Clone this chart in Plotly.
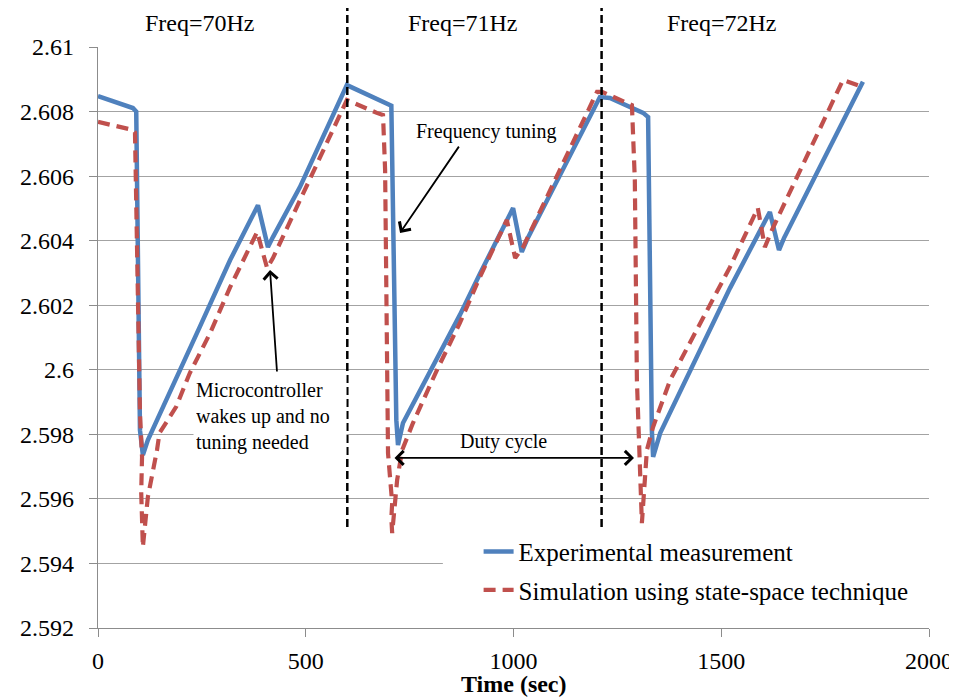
import plotly.graph_objects as go

# ---------------- data ----------------
time_exp = [0, 84, 92, 101, 108, 120, 245, 318, 385, 409, 421, 486, 599, 614,
            696, 706, 718, 722, 734, 792, 871, 919, 999, 1020, 1032, 1208,
            1232, 1312, 1324, 1333, 1336, 1353, 1432, 1521, 1617, 1639, 1651, 1841]
volt_exp = [2.60848, 2.60811, 2.60800, 2.59813, 2.59736, 2.59782, 2.60133, 2.60340,
            2.60510, 2.60380, 2.60411, 2.60566, 2.60882, 2.60873,
            2.60827, 2.60818, 2.59844, 2.59767, 2.59835, 2.59978, 2.60170, 2.60297,
            2.60501, 2.60365, 2.60402, 2.60845,
            2.60842, 2.60796, 2.60783, 2.59813, 2.59730, 2.59804, 2.60015, 2.60253,
            2.60489, 2.60371, 2.60408, 2.60892]

time_sim = [0, 84, 89, 94, 101, 106, 104, 108, 120, 142, 148, 188, 221, 270, 318,
            383, 407, 421, 599, 671, 686,
            691, 696, 698, 708, 706, 708, 720, 732, 758, 816, 871, 919, 984, 1004,
            1023, 1201, 1213, 1285,
            1292, 1297, 1304, 1307, 1309, 1321, 1336, 1377, 1432, 1521, 1588, 1605,
            1622, 1793, 1841]
volt_sim = [2.60768, 2.60743, 2.60735, 2.60278, 2.59866, 2.59730, 2.59620, 2.59451,
            2.59606, 2.59751, 2.59804, 2.59885, 2.59990, 2.60114, 2.60256,
            2.60427, 2.60315, 2.60346, 2.60836, 2.60796, 2.60789,
            2.60619, 2.60000, 2.59742, 2.59587, 2.59540, 2.59494, 2.59659, 2.59751,
            2.59835, 2.60000, 2.60145, 2.60287, 2.60464, 2.60346,
            2.60380, 2.60861, 2.60861, 2.60820,
            2.60588, 2.59968, 2.59658, 2.59580, 2.59525, 2.59751, 2.59823, 2.59968,
            2.60102, 2.60318, 2.60501, 2.60380,
            2.60433, 2.60898, 2.60876]

series_names = ["Experimental measurement", "Simulation using state-space technique"]

phase_bounds = [600, 1212]
freq_labels = ["Freq=70Hz", "Freq=71Hz", "Freq=72Hz"]
freq_label_x = [245, 878, 1502]

y_tickvals = [2.592, 2.594, 2.596, 2.598, 2.6, 2.602, 2.604, 2.606, 2.608, 2.61]
y_ticktext = ["2.592", "2.594", "2.596", "2.598", "2.6", "2.602", "2.604",
              "2.606", "2.608", "2.61"]
x_tickvals = [0, 500, 1000, 1500, 2000]
x_ticktext = ["0", "500", "1000", "1500", "2000"]

# ---------------- figure ----------------
FONT = "Liberation Serif, Times New Roman, serif"
BLUE = "#4F81BD"
RED = "#C0504D"
GRID = "#a3a3a3"
AXIS = "#8c8c8c"

fig = go.Figure()
fig.add_trace(go.Scatter(x=time_exp, y=volt_exp, mode="lines", name=series_names[0],
                         legendgroup="exp",
                         line=dict(color=BLUE, width=4.5)))
fig.add_trace(go.Scatter(x=time_sim, y=volt_sim, mode="lines", name=series_names[1],
                         legendgroup="sim",
                         line=dict(color=RED, width=4.2, dash="12px,7px")))

# vertical phase separators
for xb in phase_bounds:
    fig.add_shape(type="line", xref="x", yref="paper", x0=xb, x1=xb, y0=0.174, y1=1.081,
                  line=dict(color="black", width=2.5, dash="8px,4px"))

# white panel behind the legend (hides the grid line like the original)
fig.add_shape(type="rect", xref="paper", yref="paper", x0=0.415, x1=1.0, y0=0.03, y1=0.15,
              fillcolor="white", line=dict(width=0), layer="above")

annotations = []
for lab, lx in zip(freq_labels, freq_label_x):
    annotations.append(dict(x=lx, y=1.041, xref="x", yref="paper", text=lab,
                            showarrow=False, font=dict(family=FONT, size=24, color="black"),
                            xanchor="center", yanchor="middle"))

annotations.append(dict(x=934, y=2.60737, xref="x", yref="y", text="Frequency tuning",
                        showarrow=False, font=dict(family=FONT, size=20, color="black"),
                        xanchor="center", yanchor="middle"))
annotations.append(dict(x=727, y=2.60424, ax=871, ay=2.60696, xref="x", yref="y",
                        axref="x", ayref="y", text="", showarrow=True, arrowhead=4,
                        arrowsize=1.5, arrowwidth=1.8, arrowcolor="black"))

annotations.append(dict(x=229, y=2.59857, xref="x", yref="y",
                        text="Microcontroller<br>wakes up and no<br>tuning needed",
                        showarrow=False, align="left", bgcolor="white",
                        width=148, height=80, borderpad=2,
                        font=dict(family=FONT, size=20, color="black"),
                        xanchor="left", yanchor="middle"))
annotations.append(dict(x=414, y=2.60309, ax=431, ay=2.59990, xref="x", yref="y",
                        axref="x", ayref="y", text="", showarrow=True, arrowhead=4,
                        arrowsize=1.5, arrowwidth=1.8, arrowcolor="black"))

annotations.append(dict(x=975, y=2.59779, xref="x", yref="y", text="Duty cycle",
                        showarrow=False, font=dict(family=FONT, size=20, color="black"),
                        xanchor="center", yanchor="middle"))
annotations.append(dict(x=1290, y=2.59727, ax=710, ay=2.59727, xref="x", yref="y",
                        axref="x", ayref="y", text="", showarrow=True, arrowhead=4,
                        arrowside="end+start", arrowsize=1.5, arrowwidth=1.8,
                        arrowcolor="black"))

# x-axis title placed just under the tick labels, as in the original
annotations.append(dict(x=1000, y=-0.097, xref="x", yref="paper", text="<b>Time (sec)</b>",
                        showarrow=False, font=dict(family=FONT, size=24, color="black"),
                        xanchor="center", yanchor="middle"))

# the page body has an 8 px margin, so the figure is sized/offset to compensate
fig.update_layout(
    width=949, height=690,
    margin=dict(l=90, r=28, t=39, b=70, autoexpand=False),
    paper_bgcolor="white", plot_bgcolor="white",
    font=dict(family=FONT, size=24, color="black"),
    showlegend=True,
    legend=dict(x=0.458, y=0.171, xanchor="left", yanchor="top",
                bgcolor="rgba(0,0,0,0)", font=dict(family=FONT, size=25, color="black"),
                itemwidth=30, tracegroupgap=3, traceorder="grouped"),
    annotations=annotations,
)

fig.update_xaxes(range=[0, 2000], tickvals=x_tickvals, ticktext=x_ticktext,
                 showgrid=False, zeroline=False, showline=True, linecolor=AXIS,
                 linewidth=1.2, ticks="outside", ticklen=8, tickcolor=AXIS,
                 tickfont=dict(family=FONT, size=24, color="black"),
                 ticklabelstandoff=3)
fig.update_yaxes(range=[2.592, 2.61], tickvals=y_tickvals, ticktext=y_ticktext,
                 showgrid=True, gridcolor=GRID, gridwidth=1.2, zeroline=False,
                 showline=True, linecolor=AXIS, linewidth=1.2,
                 ticks="outside", ticklen=8, tickcolor=AXIS,
                 tickfont=dict(family=FONT, size=24, color="black"),
                 ticklabelstandoff=10)

fig.write_html("out.html")
